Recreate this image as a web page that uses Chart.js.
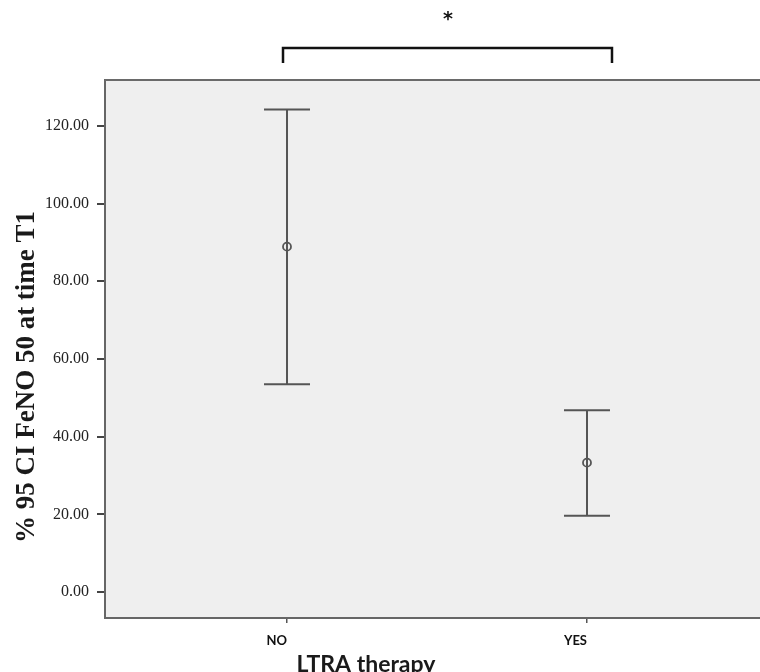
<!DOCTYPE html>
<html>
<head>
<meta charset="utf-8">
<script src="https://cdn.jsdelivr.net/npm/chart.js@4"></script>
<style>
  body { margin: 0; background: #fff; }
  canvas { display: block; }
</style>
</head>
<body>
<canvas id="ciChart" width="760" height="672"></canvas>
<script>
// datos
var groups = ['NO', 'YES'];
var means = [88.9, 33.3];
var lower = [53.5, 19.6];
var upper = [124.2, 46.8];
var yTicks = [0, 20, 40, 60, 80, 100, 120];

var barColor = '#555555';

// lineas verticales de cada intervalo
var whiskerSets = groups.map(function (g, i) {
    return {
        label: g,
        data: [{ x: i, y: lower[i] }, { x: i, y: upper[i] }],
        showLine: true,
        borderColor: barColor,
        borderWidth: 2,
        pointRadius: 0
    };
});

// topes horizontales
var capPoints = [];
groups.forEach(function (g, i) {
    capPoints.push({ x: i, y: lower[i] });
    capPoints.push({ x: i, y: upper[i] });
});

var meanPoints = groups.map(function (g, i) {
    return { x: i, y: means[i] };
});

// fondo gris y borde superior
var plotFrame = {
    id: 'plotFrame',
    beforeDraw: function (chart) {
        var a = chart.chartArea, ctx = chart.ctx;
        ctx.save();
        ctx.fillStyle = '#efefef';
        ctx.fillRect(a.left, a.top, a.right - a.left, a.bottom - a.top);
        ctx.restore();
    },
    afterDraw: function (chart) {
        var a = chart.chartArea, ctx = chart.ctx;
        var xs = chart.scales.x;
        ctx.save();
        ctx.strokeStyle = '#6a6a6a';
        ctx.lineWidth = 2;
        ctx.beginPath();
        ctx.moveTo(a.left, a.top);
        ctx.lineTo(a.right, a.top);
        ctx.stroke();

        // corchete de significancia
        var x0 = xs.getPixelForValue(0) - 4;
        var x1 = xs.getPixelForValue(1) + 25;
        ctx.strokeStyle = '#111';
        ctx.lineWidth = 2.5;
        ctx.beginPath();
        ctx.moveTo(x0, 63);
        ctx.lineTo(x0, 48);
        ctx.lineTo(x1, 48);
        ctx.lineTo(x1, 63);
        ctx.stroke();

        ctx.fillStyle = '#111';
        ctx.font = 'bold 19px "DejaVu Sans"';
        ctx.textAlign = 'center';
        ctx.textBaseline = 'middle';
        ctx.fillText('*', 448, 20);

        // titulos de ejes
        ctx.fillStyle = '#1a1a1a';
        ctx.font = 'bold 27px "Liberation Serif"';
        ctx.translate(27, 377);
        ctx.rotate(-Math.PI / 2);
        ctx.fillText('% 95 CI FeNO 50 at time T1', 0, 0);
        ctx.restore();

        ctx.save();
        ctx.fillStyle = '#1a1a1a';
        ctx.font = 'bold 23px Lato';
        ctx.textAlign = 'center';
        ctx.textBaseline = 'alphabetic';
        ctx.fillText('LTRA therapy', 366, 672);
        ctx.restore();
    }
};

var ctx = document.getElementById('ciChart').getContext('2d');
new Chart(ctx, {
    type: 'scatter',
    data: {
        datasets: whiskerSets.concat([
            {
                label: 'caps',
                data: capPoints,
                pointStyle: 'line',
                pointRadius: 23,
                borderColor: barColor,
                pointBorderWidth: 2
            },
            {
                label: 'means',
                data: meanPoints,
                pointStyle: 'circle',
                pointRadius: 4,
                borderColor: barColor,
                backgroundColor: 'rgba(0,0,0,0)',
                pointBorderWidth: 1.8
            }
        ])
    },
    options: {
        responsive: false,
        animation: false,
        layout: { autoPadding: false, padding: { top: 80, left: 0, right: 0, bottom: 0 } },
        plugins: {
            legend: { display: false },
            tooltip: { enabled: false }
        },
        scales: {
            x: {
                type: 'linear',
                min: -0.6067,
                max: 1.5767,
                afterBuildTicks: function (scale) {
                    scale.ticks = groups.map(function (g, i) { return { value: i }; });
                },
                afterFit: function (scale) { scale.height = 54; },
                grid: { drawOnChartArea: false, tickLength: 5, color: '#555', lineWidth: 1.5 },
                border: { color: '#666', width: 2 },
                ticks: {
                    align: 'end',
                    padding: 10,
                    color: '#111',
                    font: { family: 'Lato', weight: 'bold', size: 13 },
                    callback: function (v) { return groups[v]; }
                }
            },
            y: {
                min: -6.69,
                max: 131.8,
                afterBuildTicks: function (scale) {
                    scale.ticks = yTicks.map(function (v) { return { value: v }; });
                },
                afterFit: function (scale) { scale.width = 105; },
                grid: { drawOnChartArea: false, tickLength: 8, color: '#444', lineWidth: 2 },
                border: { color: '#666', width: 2 },
                ticks: {
                    padding: 8,
                    color: '#222',
                    font: { family: 'Liberation Serif', size: 16 },
                    callback: function (v) { return v.toFixed(2); }
                }
            }
        }
    },
    plugins: [plotFrame]
});
</script>
</body>
</html>
